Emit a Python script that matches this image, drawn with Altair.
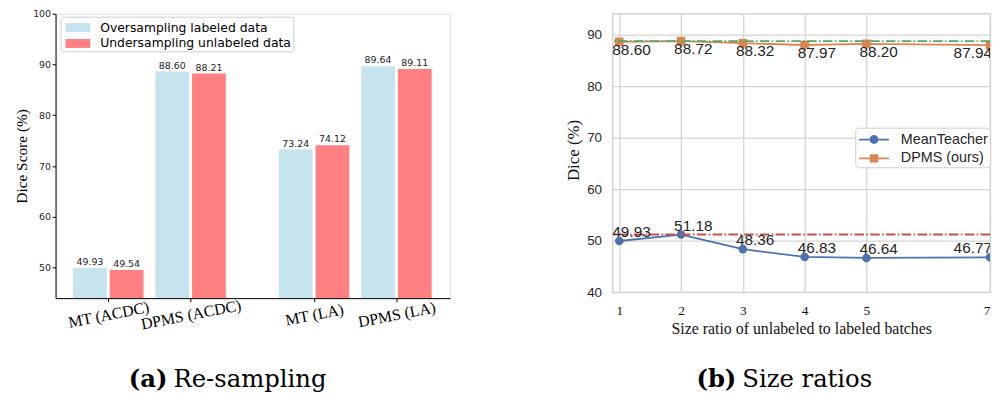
import altair as alt
import pandas as pd

# ---------------- data ----------------
categories = ["MT (ACDC)", "DPMS (ACDC)", "MT (LA)", "DPMS (LA)"]
methods = ["Oversampling labeled data", "Undersampling unlabeled data"]
oversampling = [49.93, 88.60, 73.24, 89.64]
undersampling = [49.54, 88.21, 74.12, 89.11]

ratios = [1, 2, 3, 4, 5, 7]
series = ["MeanTeacher", "DPMS (ours)"]
meanteacher = [49.93, 51.18, 48.36, 46.83, 46.64, 46.77]
dpms = [88.60, 88.72, 88.32, 87.97, 88.20, 87.94]

captions_bold = ["(a)", "(b)"]
captions_text = ["Re-sampling", "Size ratios"]

# ---------------- layout helpers ----------------
GROUP_GAP = 0.5
pos = [i + (GROUP_GAP if i >= 2 else 0) for i in range(len(categories))]
BAR_W = 0.41
OFF = 0.223
H_A, H_B = 287, 281
CAP_Y = 377
YA_DOMAIN = [44, 100]

rows = []
for m, vals in zip(methods, [oversampling, undersampling]):
    for c, p, v in zip(categories, pos, vals):
        rows.append({"category": c, "pos": p, "method": m, "value": v})
df_a = pd.DataFrame(rows)

df_b = pd.DataFrame({
    "ratio": ratios * 2,
    "series": [series[0]] * len(ratios) + [series[1]] * len(ratios),
    "value": meanteacher + dpms,
})

label_expr = " : ".join(
    [f"datum.value == {p} ? '{c}'" for p, c in zip(pos, categories)]
) + " : ''"

SERIF = "Liberation Serif"
CAP_FONT = "DejaVu Serif"
CAP_SIZE = 24.5

# ---------------- panel (a) ----------------
xa_scale = alt.Scale(domain=[-0.64, 4.15], nice=False, zero=False)
ya_scale = alt.Scale(domain=YA_DOMAIN, nice=False, zero=False)

xa_axis = alt.Axis(
    values=pos, labelExpr=label_expr, title=None, grid=False,
    domain=True, domainColor="black", domainWidth=1,
    ticks=True, tickColor="black", tickSize=3.5, tickWidth=1,
    labelFont=SERIF, labelFontSize=16, labelColor="black",
    labelAngle=349, labelAlign="center", labelBaseline="middle",
    labelPadding=13, labelFlush=False, labelOverlap=False,
)
ya_axis = alt.Axis(
    values=[50, 60, 70, 80, 90, 100], title="Dice Score (%)",
    titleFont=SERIF, titleFontSize=15.5, titleFontWeight="normal",
    titleColor="black", titleX=-34, titleY=H_A / 2, titleAngle=270,
    titleBaseline="middle", titleAlign="center",
    labelFont="DejaVu Sans", labelFontSize=9.5, labelColor="#222222",
    labelPadding=1.5, tickSize=3.5, tickColor="black", tickWidth=1,
    domain=True, domainColor="black", domainWidth=1, grid=False,
)

legend_a = alt.Legend(
    title=None, orient="none", legendX=5, legendY=3,
    symbolType="M-1.316,-0.474H1.316V0.474H-1.316Z", symbolSize=361,
    symbolStrokeWidth=0, symbolOffset=6.5, labelOffset=13,
    padding=1.5, rowPadding=0, labelFont="DejaVu Sans", labelFontSize=12.5,
    labelColor="black", fillColor="white", strokeColor="#cccccc",
    cornerRadius=3, labelLimit=0,
)

base_a = alt.Chart(df_a).transform_calculate(
    off=f"datum.method == '{methods[0]}' ? {-OFF} : {OFF}"
).transform_calculate(
    x0=f"datum.pos + datum.off - {BAR_W / 2}",
    x1=f"datum.pos + datum.off + {BAR_W / 2}",
    xc="datum.pos + datum.off",
)

bars = base_a.mark_bar(clip=True).encode(
    x=alt.X("x0:Q", scale=xa_scale, axis=xa_axis),
    x2="x1:Q",
    y=alt.Y("value:Q", scale=ya_scale, axis=ya_axis),
    y2=alt.datum(YA_DOMAIN[0]),
    color=alt.Color("method:N", scale=alt.Scale(domain=methods, range=["#c6e4ee", "#ff8080"]),
                    legend=legend_a),
)
bar_labels = base_a.mark_text(
    baseline="alphabetic", dy=-3, font="DejaVu Sans", fontSize=9.5, color="#222222"
).encode(
    x=alt.X("xc:Q", scale=xa_scale, axis=xa_axis),
    y=alt.Y("value:Q", scale=ya_scale, axis=ya_axis),
    text=alt.Text("value:Q", format=".2f"),
)

cap_a_bold = alt.Chart(pd.DataFrame({"t": [captions_bold[0]]})).mark_text(
    align="right", baseline="alphabetic", font=CAP_FONT, fontSize=CAP_SIZE,
    fontWeight="bold", color="black"
).encode(text="t:N", x=alt.value(113), y=alt.value(CAP_Y))
cap_a_text = alt.Chart(pd.DataFrame({"t": [captions_text[0]]})).mark_text(
    align="left", baseline="alphabetic", font=CAP_FONT, fontSize=CAP_SIZE, color="black"
).encode(text="t:N", x=alt.value(119), y=alt.value(CAP_Y))

panel_a = alt.layer(bars, bar_labels, cap_a_bold, cap_a_text).properties(width=398, height=H_A)

# ---------------- panel (b) ----------------
xb_scale = alt.Scale(domain=[0.89, 7.0], nice=False, zero=False)
yb_scale = alt.Scale(domain=[40, 94.04], nice=False, zero=False)
GRID = "#d4d4d4"
TXT = "#262626"
C_MT, C_DP = "#4C72B0", "#DD8452"

xb_axis = alt.Axis(
    values=ratios, title="Size ratio of unlabeled to labeled batches",
    titleFont=SERIF, titleFontSize=16, titleFontWeight="normal", titleColor="#111111",
    titleY=42, titleBaseline="alphabetic",
    labelFont=SERIF, labelFontSize=13.5, labelColor="#111111",
    labelBaseline="top", labelPadding=12, labelFlush=True,
    ticks=False, domain=False, grid=True, gridColor=GRID, gridWidth=1.3,
)
yb_axis = alt.Axis(
    values=[40, 50, 60, 70, 80, 90], title="Dice (%)",
    titleFont=SERIF, titleFontSize=17, titleFontWeight="normal", titleColor="#111111",
    titleX=-39, titleY=H_B / 2 - 3, titleAngle=270, titleBaseline="middle", titleAlign="center",
    labelFont="Liberation Sans", labelFontSize=13.5, labelColor=TXT, labelPadding=11,
    ticks=False, domain=False, grid=True, gridColor=GRID, gridWidth=1.3,
)
xb = alt.X("ratio:Q", scale=xb_scale, axis=xb_axis)
yb = alt.Y("value:Q", scale=yb_scale, axis=yb_axis)

base_b = alt.Chart(df_b)
is_mt = f"datum.series == '{series[0]}'"
is_dp = f"datum.series == '{series[1]}'"
last = ratios[-1]

line_mt = base_b.transform_filter(is_mt).mark_line(strokeWidth=1.8, clip=True, color=C_MT).encode(x=xb, y=yb)
line_dp = base_b.transform_filter(is_dp).mark_line(strokeWidth=1.8, clip=True, color=C_DP).encode(x=xb, y=yb)
pts_mt = base_b.transform_filter(is_mt).mark_point(
    shape="circle", filled=True, size=75, opacity=1, clip=True, color=C_MT
).encode(x=xb, y=yb)
pts_dp = base_b.transform_filter(is_dp).mark_point(
    shape="square", filled=True, size=75, opacity=1, clip=True, color=C_DP
).encode(x=xb, y=yb)

dash = [9.6, 2.4, 1.5, 2.4]
rule_dp = base_b.transform_filter(is_dp).mark_rule(
    color="#55A868", strokeWidth=2, strokeDash=dash
).encode(y=alt.Y("value:Q", aggregate="max", scale=yb_scale, axis=yb_axis))
rule_mt = base_b.transform_filter(is_mt).mark_rule(
    color="#C44E52", strokeWidth=2, strokeDash=dash
).encode(y=alt.Y("value:Q", aggregate="max", scale=yb_scale, axis=yb_axis))

txt_kw = dict(font="Liberation Sans", fontSize=15.5, color=TXT, clip=True)
lab_dp_l = base_b.transform_filter(is_dp).transform_filter(f"datum.ratio < {last}").mark_text(
    align="left", baseline="top", dx=-7, dy=1, **txt_kw
).encode(x=xb, y=yb, text=alt.Text("value:Q", format=".2f"))
lab_dp_r = base_b.transform_filter(is_dp).transform_filter(f"datum.ratio == {last}").mark_text(
    align="right", baseline="top", dx=2, dy=1, **txt_kw
).encode(x=xb, y=yb, text=alt.Text("value:Q", format=".2f"))
lab_mt_l = base_b.transform_filter(is_mt).transform_filter(f"datum.ratio < {last}").mark_text(
    align="left", baseline="alphabetic", dx=-7, dy=-4, **txt_kw
).encode(x=xb, y=yb, text=alt.Text("value:Q", format=".2f"))
lab_mt_r = base_b.transform_filter(is_mt).transform_filter(f"datum.ratio == {last}").mark_text(
    align="right", baseline="alphabetic", dx=2, dy=-4, **txt_kw
).encode(x=xb, y=yb, text=alt.Text("value:Q", format=".2f"))

path_c = ("M-1.5,-0.09H-0.45V0.09H-1.5Z M0.45,-0.09H1.5V0.09H0.45Z "
          "M0.45,0A0.45,0.45,0,1,1,-0.45,0A0.45,0.45,0,1,1,0.45,0Z")
path_s = ("M-1.5,-0.09H-0.42V0.09H-1.5Z M0.42,-0.09H1.5V0.09H0.42Z "
          "M-0.42,-0.42H0.42V0.42H-0.42Z")
legend_b = alt.Legend(
    title=None, orient="none", legendX=245, legendY=115,
    symbolSize=400, symbolStrokeWidth=0, symbolOpacity=1,
    symbolOffset=7, labelOffset=17, padding=2, rowPadding=2,
    labelFont="Liberation Sans", labelFontSize=14.5, labelColor=TXT,
    fillColor="white", strokeColor="#cccccc", cornerRadius=4, labelLimit=0,
)
legend_layer = base_b.mark_point(filled=True, opacity=0, clip=True).encode(
    x=xb, y=yb,
    color=alt.Color("series:N", scale=alt.Scale(domain=series, range=[C_MT, C_DP]), legend=legend_b),
    shape=alt.Shape("series:N", scale=alt.Scale(domain=series, range=[path_c, path_s]), legend=legend_b),
)

cap_b_bold = alt.Chart(pd.DataFrame({"t": [captions_bold[1]]})).mark_text(
    align="right", baseline="alphabetic", font=CAP_FONT, fontSize=CAP_SIZE,
    fontWeight="bold", color="black"
).encode(text="t:N", x=alt.value(125), y=alt.value(CAP_Y))
cap_b_text = alt.Chart(pd.DataFrame({"t": [captions_text[1]]})).mark_text(
    align="left", baseline="alphabetic", font=CAP_FONT, fontSize=CAP_SIZE, color="black"
).encode(text="t:N", x=alt.value(131), y=alt.value(CAP_Y))

panel_b = alt.layer(
    line_mt, line_dp, pts_mt, pts_dp, rule_dp, rule_mt,
    lab_dp_l, lab_dp_r, lab_mt_l, lab_mt_r, legend_layer, cap_b_bold, cap_b_text,
).properties(
    width=381, height=H_B,
    view=alt.ViewBackground(stroke="#cccccc", strokeWidth=1.25, fill="white"),
)

chart = alt.hconcat(panel_a, panel_b, spacing=164, bounds="flush").resolve_scale(
    color="independent", shape="independent"
).resolve_legend(
    color="independent", shape="independent"
).properties(
    padding={"left": 6, "top": -2, "right": 0, "bottom": 0},
).configure_view(stroke=None).configure(background="white")

chart.save("out.html", embed_options={"renderer": "svg", "actions": False})
